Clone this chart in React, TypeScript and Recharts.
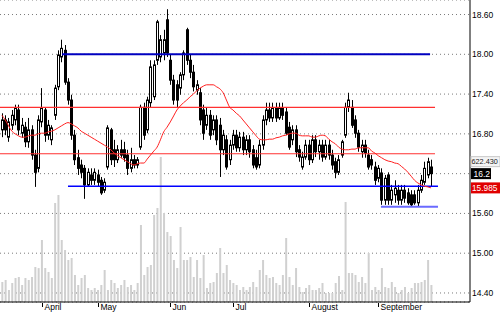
import React from 'react';
import {
  ComposedChart,
  Bar,
  Line,
  XAxis,
  YAxis,
  CartesianGrid,
  ReferenceLine,
  ReferenceDot,
} from 'recharts';

// daily bars, oldest first
const opens = [
  16.86, 17.01, 16.75, 16.93, 17.01, 17.16, 16.81, 16.9, 16.68, 16.86,
  16.48, 16.28, 16.98, 17.16, 16.78, 16.71, 17.08, 17.51, 17.96, 18.06,
  17.58, 17.31, 16.78, 16.44, 16.33, 16.28, 16.03, 16.18, 16.1, 16.18,
  16.1, 15.95, 16.3, 16.86, 16.56, 16.41, 16.56, 16.56, 16.48, 16.28,
  16.41, 16.33, 16.6, 17.2, 16.86, 17.27, 17.36, 17.91, 17.96, 18.02,
  18.52, 17.91, 17.61, 17.54, 17.49, 17.69, 18.37, 17.91, 17.73, 17.46,
  17.42, 17.16, 16.93, 17.08, 16.86, 17.01, 16.93, 16.56, 16.71, 16.41,
  16.63, 16.78, 16.59, 16.75, 16.56, 16.71, 16.56, 16.44, 16.33, 16.63,
  17.01, 17.16, 17.04, 17.19, 17.04, 17.19, 17.13, 16.9, 16.71, 16.86,
  16.56, 16.3, 16.45, 16.63, 16.41, 16.71, 16.53, 16.63, 16.45, 16.63,
  16.48, 16.38, 16.22, 16.48, 16.78, 17.2, 17.2, 17.01, 16.81, 16.53,
  16.63, 16.48, 16.41, 16.3, 16.13, 16.21, 15.8, 16.18, 15.8, 15.88,
  15.95, 15.8, 15.95, 15.91, 15.88, 15.88, 15.76, 15.95, 16.07, 16.18,
  16.3,
];
const closes = [
  17.01, 16.86, 16.98, 17.08, 17.19, 16.86, 16.93, 16.68, 16.86, 16.48,
  16.22, 17.01, 17.19, 16.78, 16.93, 16.89, 17.49, 17.99, 18.09, 17.58,
  17.31, 16.78, 16.41, 16.28, 16.22, 16.03, 16.22, 16.1, 16.22, 16.07,
  15.91, 16.07, 16.89, 16.41, 16.41, 16.56, 16.48, 16.44, 16.28, 16.41,
  16.33, 16.41, 17.2, 16.78, 17.31, 17.81, 17.84, 18.49, 18.22, 18.22,
  18.02, 17.61, 17.31, 17.31, 17.69, 18.02, 17.91, 17.73, 17.51, 17.54,
  17.01, 16.81, 17.08, 16.78, 17.01, 16.71, 16.56, 16.78, 16.3, 16.63,
  16.78, 16.59, 16.75, 16.56, 16.71, 16.53, 16.33, 16.3, 16.63, 17.01,
  17.16, 17.04, 17.19, 17.04, 17.19, 17.08, 16.81, 16.6, 16.86, 16.53,
  16.45, 16.45, 16.63, 16.41, 16.71, 16.53, 16.63, 16.45, 16.63, 16.48,
  16.33, 16.22, 16.41, 16.68, 17.2, 17.31, 16.93, 16.81, 16.6, 16.63,
  16.51, 16.3, 16.33, 16.1, 16.28, 15.8, 16.13, 15.8, 15.95, 15.98,
  15.8, 15.95, 15.83, 15.76, 15.73, 15.76, 15.95, 16.1, 16.28, 16.38,
  16.2,
];
const highs = [
  17.11, 17.08, 17.04, 17.16, 17.24, 17.24, 17.04, 16.98, 17.04, 16.93,
  16.56, 17.08, 17.49, 17.2, 17.01, 16.93, 17.54, 18.06, 18.22, 18.14,
  17.64, 17.39, 16.86, 16.56, 16.41, 16.33, 16.28, 16.28, 16.28, 16.26,
  16.15, 16.13, 16.93, 16.89, 16.71, 16.63, 16.71, 16.68, 16.56, 16.59,
  16.48, 16.45, 17.24, 17.27, 17.36, 17.91, 17.91, 18.52, 18.29, 18.37,
  18.68, 17.99, 17.69, 17.61, 17.73, 18.06, 18.4, 17.99, 17.84, 17.61,
  17.49, 17.24, 17.19, 17.16, 17.08, 17.08, 17.04, 16.86, 16.78, 16.71,
  16.86, 16.86, 16.83, 16.83, 16.78, 16.78, 16.63, 16.56, 16.71, 17.08,
  17.27, 17.27, 17.27, 17.27, 17.27, 17.27, 17.19, 16.98, 16.93, 16.93,
  16.63, 16.53, 16.71, 16.71, 16.78, 16.78, 16.71, 16.71, 16.71, 16.71,
  16.56, 16.44, 16.48, 16.71, 17.27, 17.42, 17.31, 17.08, 16.86, 16.71,
  16.71, 16.56, 16.48, 16.38, 16.33, 16.28, 16.18, 16.22, 16.03, 16.1,
  16.03, 16.03, 16.03, 15.98, 15.95, 15.95, 16.03, 16.18, 16.38, 16.44,
  16.41,
];
const lows = [
  16.75, 16.78, 16.68, 16.86, 16.93, 16.78, 16.74, 16.6, 16.59, 16.41,
  16.0, 16.22, 16.9, 16.68, 16.71, 16.63, 17.01, 17.46, 17.88, 17.54,
  17.24, 16.71, 16.33, 16.18, 16.13, 15.82, 16.0, 16.03, 16.03, 16.0,
  15.88, 15.91, 16.26, 16.33, 16.3, 16.36, 16.44, 16.38, 16.18, 16.22,
  16.28, 16.28, 16.56, 16.71, 16.81, 17.19, 17.31, 17.84, 17.88, 17.91,
  17.96, 17.54, 17.24, 17.19, 17.39, 17.61, 17.84, 17.64, 17.44, 17.39,
  16.93, 16.71, 16.86, 16.71, 16.78, 16.63, 16.15, 16.48, 16.26, 16.33,
  16.56, 16.53, 16.53, 16.48, 16.48, 16.44, 16.28, 16.26, 16.28, 16.56,
  16.93, 16.98, 16.98, 16.98, 17.01, 17.01, 16.78, 16.56, 16.63, 16.45,
  16.38, 16.26, 16.41, 16.33, 16.36, 16.45, 16.41, 16.38, 16.41, 16.41,
  16.26, 16.13, 16.18, 16.44, 16.74, 17.13, 16.89, 16.74, 16.53, 16.44,
  16.44, 16.26, 16.26, 16.03, 16.07, 15.73, 15.73, 15.73, 15.73, 15.76,
  15.73, 15.73, 15.76, 15.73, 15.7, 15.73, 15.7, 15.91, 16.03, 16.13,
  16.0,
];
// moving average (red)
const movingAvg = [
  17.08, 17.01, 16.92, 16.84, 16.8, 16.77, 16.75, 16.75, 16.77, 16.78,
  16.78, 16.8, 16.81, 16.81, 16.83, 16.84, 16.86, 16.89, 16.92, 16.95,
  16.97, 16.95, 16.92, 16.89, 16.84, 16.81, 16.78, 16.75, 16.72, 16.69,
  16.66, 16.63, 16.6, 16.56, 16.51, 16.47, 16.44, 16.41, 16.38, 16.35,
  16.33, 16.35, 16.36, 16.36, 16.42, 16.48, 16.54, 16.6, 16.71, 16.83,
  16.9, 16.98, 17.07, 17.16, 17.22, 17.27, 17.31, 17.36, 17.4, 17.45,
  17.49, 17.52, 17.54, 17.54, 17.54, 17.51, 17.48, 17.42, 17.31, 17.2,
  17.16, 17.11, 17.07, 17.01, 16.95, 16.89, 16.83, 16.77, 16.72, 16.71,
  16.71, 16.72, 16.72, 16.74, 16.75, 16.77, 16.78, 16.8, 16.81, 16.81,
  16.78, 16.77, 16.77, 16.77, 16.75, 16.75, 16.77, 16.78, 16.77, 16.72,
  16.68, 16.65, 16.6, 16.57, 16.56, 16.56, 16.57, 16.57, 16.59, 16.59,
  16.59, 16.59, 16.54, 16.51, 16.47, 16.44, 16.41, 16.39, 16.38, 16.36,
  16.35, 16.31, 16.27, 16.22, 16.16, 16.1, 16.06, 16.03, 16.01, 16.0,
  15.985,
];
// volume, thousands
const volumes = [
  732, 805, 439, 695, 878, 915, 622, 878, 805, 915,
  1281, 1240, 2269, 1244, 1098, 878, 3623, 3916, 2269, 1903,
  1537, 1610, 988, 622, 878, 988, 512, 439, 512, 439,
  622, 1171, 439, 805, 695, 512, 622, 805, 549, 622,
  439, 695, 2818, 988, 1281, 1354, 3184, 3440, 5307, 3257,
  2562, 2416, 1537, 1244, 2745, 1537, 1537, 1647, 915, 1537,
  878, 1720, 512, 695, 732, 1061, 1976, 1061, 1354, 805,
  695, 622, 439, 549, 439, 549, 732, 549, 1171, 1537,
  988, 878, 915, 695, 622, 988, 2342, 915, 622, 1244,
  549, 366, 512, 622, 439, 439, 512, 695, 329, 329,
  329, 695, 952, 439, 3660, 1061, 1061, 988, 732, 915,
  695, 1793, 439, 549, 439, 1244, 549, 512, 732, 549,
  329, 439, 549, 329, 512, 695, 695, 732, 805, 1537,
  622,
];

const priceTicks = [14.4, 15.0, 15.6, 16.2, 16.8, 17.4, 18.0, 18.6];
const monthTicks = [12, 29, 51, 70, 93, 114];
const monthLabels = ['April', 'May', 'Jun', 'Jul', 'August', 'September'];

const lastClose = 16.2;
const lastAvg = 15.985;
const lastVolume = '622.430';

const data = closes.map((c, i) => ({
  i,
  open: opens[i],
  close: c,
  high: highs[i],
  low: lows[i],
  range: [lows[i], highs[i]],
  ma: movingAvg[i],
  vol: volumes[i],
}));

const FONT = 'Liberation Sans, Arial, sans-serif';

const Candle = (props: any) => {
  const { x, y, width, height, payload } = props;
  if (!payload) return null;
  const top = Math.min(y, y + height);
  const h = Math.abs(height);
  const { open, close, high, low } = payload;
  const toY = (v: number) => top + ((high - v) / (high - low)) * h;
  const cx = Math.round(x + width / 2) + 0.5;
  const yo = toY(open);
  const yc = toY(close);
  const bodyTop = Math.min(yo, yc);
  const bodyH = Math.max(1, Math.abs(yo - yc));
  const up = close >= open;
  return (
    <g>
      <line x1={cx} x2={cx} y1={top} y2={top + h} stroke="#000" strokeWidth={1} />
      <rect
        x={cx - 1}
        y={bodyTop}
        width={2}
        height={bodyH}
        fill={up ? '#fff' : '#000'}
        stroke="#000"
        strokeWidth={1}
      />
    </g>
  );
};

const MonthTick = (props: any) => {
  const { x, y, payload } = props;
  const idx = monthTicks.indexOf(payload.value);
  const px = Math.round(x) + 0.5;
  return (
    <g>
      <line x1={px} x2={px} y1={y + 1} y2={y + 5} stroke="#000" strokeWidth={1} />
      <text x={px + 2} y={y + 8} fontSize={8.5} fontFamily={FONT} fill="#000">
        {monthLabels[idx]}
      </text>
    </g>
  );
};

const CloseTag = (props: any) => {
  const { cx, cy } = props;
  return (
    <g fontFamily={FONT}>
      <rect x={cx + 1} y={cy - 17} width={29} height={10} fill="#f4f4f4" stroke="#c8c8c8" />
      <text x={cx + 1.5} y={cy - 9.5} fontSize={7.3} fill="#222">{lastVolume}</text>
      <rect x={cx + 1} y={cy - 5.5} width={20} height={11} fill="#000" />
      <text x={cx + 3.5} y={cy + 3} fontSize={8.5} fill="#fff">{lastClose}</text>
    </g>
  );
};

const AvgTag = (props: any) => {
  const { cx, cy } = props;
  return (
    <g fontFamily={FONT}>
      <rect x={cx + 1} y={cy - 5.5} width={29} height={11} fill="#e00000" />
      <text x={cx + 2} y={cy + 3} fontSize={8.3} fill="#fff">{lastAvg}</text>
    </g>
  );
};

const X_DOMAIN: [number, number] = [-0.6, 141.8];

// the last-close tag covers the axis label at that level
const priceLabel = (v: number) => (Math.abs(v - lastClose) < 0.001 ? '' : v.toFixed(2));

export default function App() {
  return (
    <div style={{ position: 'absolute', left: 0, top: 0, width: 500, height: 312, background: '#fff' }}>
      <ComposedChart
        width={500}
        height={312}
        data={data}
        margin={{ top: 0, right: 0, bottom: 0, left: 0 }}
        style={{ fontFamily: FONT }}
      >
        <XAxis
          dataKey="i"
          type="number"
          domain={X_DOMAIN}
          allowDataOverflow
          ticks={monthTicks}
          interval={0}
          height={10}
          tickSize={0}
          tickMargin={0}
          tickLine={false}
          axisLine={{ stroke: '#000' }}
          tick={<MonthTick />}
        />
        <XAxis xAxisId="vx" dataKey="i" type="number" domain={X_DOMAIN} allowDataOverflow hide />
        <YAxis
          orientation="right"
          type="number"
          domain={[14.264, 18.819]}
          allowDataOverflow
          ticks={priceTicks}
          interval={0}
          width={30}
          tickSize={0}
          tickMargin={2}
          tickLine={false}
          axisLine={{ stroke: '#000' }}
          tickFormatter={priceLabel}
          tick={{ fill: '#000', fontSize: 8.5, fontFamily: FONT }}
        />
        <YAxis yAxisId="vol" type="number" domain={[0, 11050]} allowDataOverflow hide />

        <Bar
          dataKey="vol"
          xAxisId="vx"
          yAxisId="vol"
          fill="#d0d0d0"
          barSize={2}
          isAnimationActive={false}
        />
        <CartesianGrid horizontal vertical={false} stroke="#7a7a7a" strokeDasharray="1 3" />

        <ReferenceLine segment={[{ x: -0.6, y: 17.2 }, { x: 131.2, y: 17.2 }]} stroke="#ff3030" strokeWidth={1.2} ifOverflow="visible" />
        <ReferenceLine segment={[{ x: -0.6, y: 16.5 }, { x: 131.2, y: 16.5 }]} stroke="#ff3030" strokeWidth={1.2} ifOverflow="visible" />
        <ReferenceLine segment={[{ x: 18.2, y: 18.0 }, { x: 129.7, y: 18.0 }]} stroke="#0000c0" strokeWidth={2} ifOverflow="visible" />
        <ReferenceLine segment={[{ x: 20, y: 16.01 }, { x: 132.1, y: 16.01 }]} stroke="#0000ff" strokeWidth={1.5} ifOverflow="visible" />
        <ReferenceLine segment={[{ x: 114.8, y: 15.7 }, { x: 132.1, y: 15.7 }]} stroke="#6a6aff" strokeWidth={2} ifOverflow="visible" />

        <Bar dataKey="range" barSize={3} shape={<Candle />} isAnimationActive={false} />
        <Line
          dataKey="ma"
          type="monotone"
          stroke="#ff2020"
          strokeWidth={1}
          dot={false}
          activeDot={false}
          isAnimationActive={false}
        />

        <ReferenceDot x={X_DOMAIN[1]} y={lastClose} r={0} ifOverflow="visible" shape={<CloseTag />} />
        <ReferenceDot x={X_DOMAIN[1]} y={lastAvg} r={0} ifOverflow="visible" shape={<AvgTag />} />
      </ComposedChart>
    </div>
  );
}
